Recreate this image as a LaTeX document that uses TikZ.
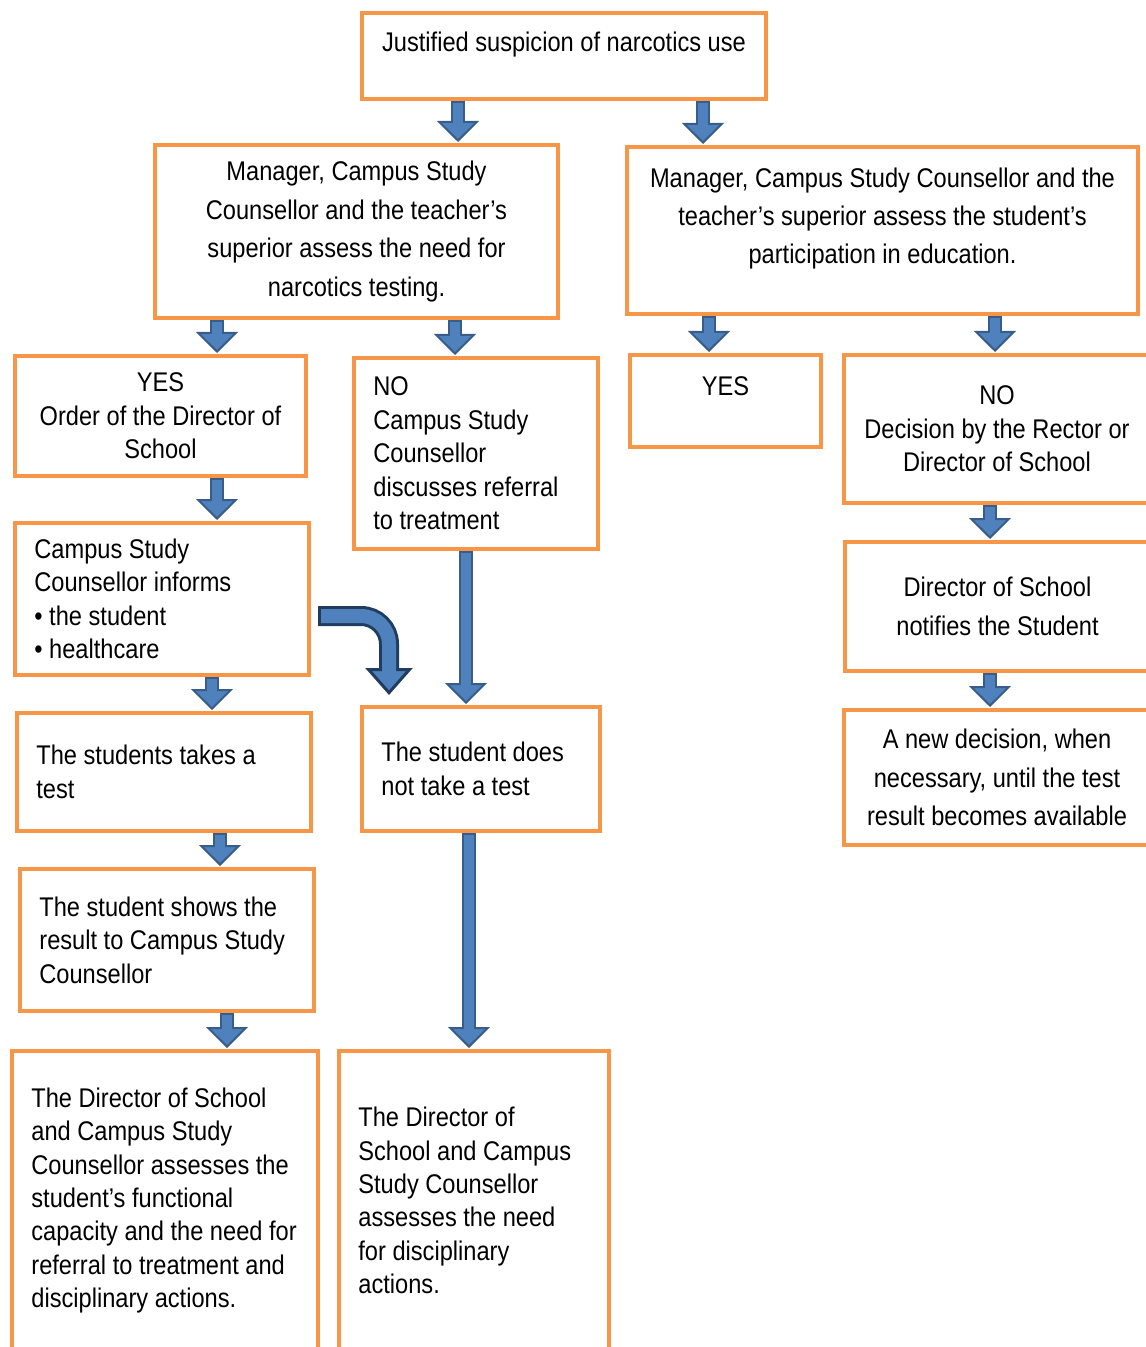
\documentclass[tikz,border=0pt]{standalone}
\usepackage{fontspec}
\setmainfont{Liberation Sans}[FakeStretch=0.875]
\usepackage{xcolor}
\usepackage{tikz}
\usetikzlibrary{arrows.meta}

\definecolor{boxorange}{HTML}{F79646}
\definecolor{arrowfill}{HTML}{4F81BD}
\definecolor{arrowline}{HTML}{385D8A}
\definecolor{bendline}{HTML}{203D60}

\tikzset{
  box/.style={draw=boxorange, line width=2pt, rectangle, inner sep=0pt},
  txt/.style={font=\fontsize{13.5}{16.7}\selectfont, align=center},
  wtxt/.style={font=\fontsize{13.5}{19.2}\selectfont, align=center},
  ltxt/.style={font=\fontsize{13.5}{16.7}\selectfont, align=left, inner sep=0pt, anchor=west, xshift=10.5pt},
  downarrow/.style={draw=arrowfill, line width=1pt,
    -{Triangle[width=21pt, length=10.5pt, color=arrowline, fill=arrowfill]},
    shorten >=0.5pt, shorten <=1pt,
    preaction={draw=arrowline, line width=7pt, -, shorten >=10pt, shorten <=0pt},
    postaction={draw=arrowfill, line width=5pt, -, shorten >=9.5pt, shorten <=1pt}},
  bendarrow/.style={draw=arrowfill, line width=1.5pt, rounded corners=14pt,
    -{Triangle[width=23.5pt, length=13.5pt, color=bendline, fill=arrowfill]},
    shorten >=5pt, shorten <=5pt,
    preaction={draw=bendline, line width=10pt, -, shorten >=17pt, shorten <=3.5pt},
    postaction={draw=arrowfill, line width=7pt, -, shorten >=16.5pt, shorten <=5pt}}
}

\begin{document}
\begin{tikzpicture}[x=0.5pt, y=-0.5pt]
  \useasboundingbox (0,0) rectangle (1145,1347);

  % top and the two assessments
  \node[box, minimum width=202pt, minimum height=43pt,
    label={[txt, yshift=5.5pt]center:{Justified suspicion of narcotics use}}] (top) at (564,56) {};
  \node[box, wtxt, minimum width=201.5pt, minimum height=86.5pt] (assessL) at (356.5,231.5)
    {Manager, Campus Study\\Counsellor and the teacher's\\superior assess the need for\\narcotics testing.};
  \node[box, minimum width=255.5pt, minimum height=83.5pt,
    label={[wtxt, yshift=6pt]center:{Manager, Campus Study Counsellor and the\\teacher's superior assess the student’s\\participation in education.}}] (assessR) at (882.5,230.5) {};

  % left branch
  \node[box, txt, minimum width=145.5pt, minimum height=60pt] (yesL) at (160.5,416)
    {YES\\Order of the Director of\\School};
  \node[box, minimum width=122pt, minimum height=95.5pt,
    label={[ltxt]west:{NO\\Campus Study\\Counsellor\\discusses referral\\to treatment}}] (noL) at (476,453.5) {};
  \node[box, minimum width=147pt, minimum height=76pt,
    label={[ltxt]west:{Campus Study\\Counsellor informs\\• the student\\• healthcare}}] (informs) at (162,599) {};
  \node[box, minimum width=147pt, minimum height=59pt,
    label={[ltxt]west:{The students takes a\\test}}] (takes) at (164,772) {};
  \node[box, minimum width=119pt, minimum height=62pt,
    label={[ltxt]west:{The student does\\not take a test}}] (notake) at (481,769) {};
  \node[box, minimum width=147pt, minimum height=71pt,
    label={[ltxt]west:{The student shows the\\result to Campus Study\\Counsellor}}] (shows) at (167,940) {};
  \node[box, minimum width=153pt, minimum height=149.5pt,
    label={[ltxt]west:{The Director of School\\and Campus Study\\Counsellor assesses the\\student’s functional\\capacity and the need for\\referral to treatment and\\disciplinary actions.}}] (funcL) at (165,1200.5) {};
  \node[box, minimum width=135pt, minimum height=149.5pt,
    label={[ltxt]west:{The Director of\\School and Campus\\Study Counsellor\\assesses the need\\for disciplinary\\actions.}}] (disc) at (474,1200.5) {};

  % right branch
  \node[box, minimum width=95.5pt, minimum height=46pt,
    label={[txt, yshift=7.5pt]center:YES}] (yesR) at (725.5,401) {};
  \node[box, txt, minimum width=153pt, minimum height=74pt] (noR) at (997,429)
    {NO\\Decision by the Rector or\\Director of School};
  \node[box, wtxt, minimum width=152.5pt, minimum height=64.5pt] (notify) at (997.5,606.5)
    {Director of School\\notifies the Student};
  \node[box, wtxt, minimum width=153pt, minimum height=67.5pt] (newdec) at (997,777.5)
    {A new decision, when\\necessary, until the test\\result becomes available};

  % arrows
  \draw[downarrow] (top.south -| 458,0) -- (assessL.north -| 458,0);
  \draw[downarrow] (top.south -| 703,0) -- (assessR.north -| 703,0);
  \draw[downarrow] (assessL.south -| 217,0) -- (yesL.north -| 217,0);
  \draw[downarrow] (assessL.south -| 455,0) -- (noL.north -| 455,0);
  \draw[downarrow] (assessR.south -| 709,0) -- (yesR.north -| 709,0);
  \draw[downarrow] (assessR.south -| 995,0) -- (noR.north -| 995,0);
  \draw[downarrow] (yesL.south -| 217,0) -- (informs.north -| 217,0);
  \draw[downarrow] (noR.south -| 990,0) -- (notify.north -| 990,0);
  \draw[downarrow] (notify.south -| 990,0) -- (newdec.north -| 990,0);
  \draw[downarrow] (informs.south -| 212,0) -- (takes.north -| 212,0);
  \draw[downarrow] (takes.south -| 220,0) -- (shows.north -| 220,0);
  \draw[downarrow] (shows.south -| 227,0) -- (funcL.north -| 227,0);
  \draw[downarrow] (noL.south -| 466,0) -- (notake.north -| 466,0);
  \draw[downarrow] (notake.south -| 469,0) -- (disc.north -| 469,0);
  \draw[bendarrow] ([yshift=-8.5pt]informs.east) -| ([xshift=-46pt]notake.north);
\end{tikzpicture}
\end{document}
